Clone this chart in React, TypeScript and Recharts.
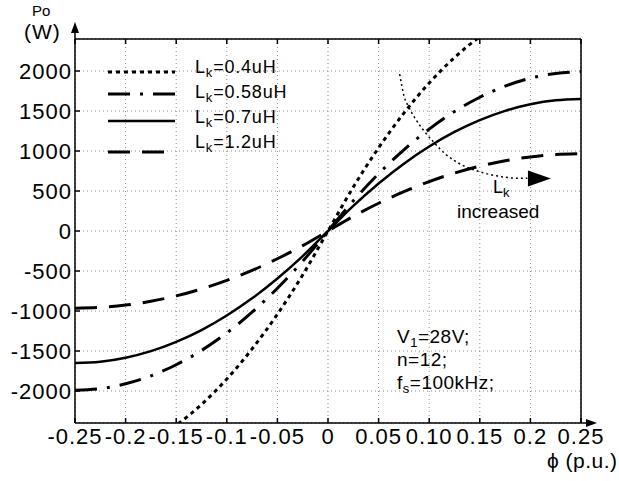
import { LineChart, Line, XAxis, YAxis, CartesianGrid, ReferenceDot } from 'recharts';

// phase shift (p.u.) and output power (W)
const phi = [-0.25, -0.225, -0.2, -0.175, -0.15, -0.125, -0.1, -0.075, -0.05, -0.025, 0, 0.025, 0.05, 0.075, 0.1, 0.125, 0.15, 0.175, 0.2, 0.225, 0.25];
const lk04 = [-2890, -2861, -2774, -2630, -2428, -2168, -1850, -1474, -1040, -549, 0, 549, 1040, 1474, 1850, 2168, 2428, 2630, 2774, 2861, 2890];
const lk058 = [-1990, -1970, -1910, -1811, -1672, -1493, -1274, -1015, -716, -378, 0, 378, 716, 1015, 1274, 1493, 1672, 1811, 1910, 1970, 1990];
const lk07 = [-1650, -1634, -1584, -1502, -1386, -1238, -1056, -842, -594, -314, 0, 314, 594, 842, 1056, 1238, 1386, 1502, 1584, 1634, 1650];
const lk12 = [-965, -955, -926, -878, -811, -724, -618, -492, -347, -183, 0, 183, 347, 492, 618, 724, 811, 878, 926, 955, 965];

const xTicks = [-0.25, -0.2, -0.15, -0.1, -0.05, 0, 0.05, 0.1, 0.15, 0.2, 0.25];
const xTickLabels = ['-0.25', '-0.2', '-0.15', '-0.1', '-0.05', '0', '0.05', '0.10', '0.15', '0.2', '0.25'];
const yTicks = [-2000, -1500, -1000, -500, 0, 500, 1000, 1500, 2000];

// "Lk increased" arrow
const arcPhi = [0.0708, 0.0751, 0.08, 0.0866, 0.0949, 0.1048, 0.1163, 0.1312, 0.1477, 0.1675, 0.1906, 0.197];
const arcPo = [1961, 1689, 1544, 1397, 1251, 1105, 959, 833, 749, 687, 658, 660];
const arrowTip = { phi: 0.2203, po: 655 };

const series = [
  { key: 'lk04', label: '0.4uH', dash: '4 4', width: 3 },
  { key: 'lk058', label: '0.58uH', dash: '22 10 3 10', width: 3 },
  { key: 'lk07', label: '0.7uH', dash: undefined, width: 2.5 },
  { key: 'lk12', label: '1.2uH', dash: '22 12', width: 3 },
];

const data = phi.map((p, i) => ({ phi: p, lk04: lk04[i], lk058: lk058[i], lk07: lk07[i], lk12: lk12[i] }));
const arcData = arcPhi.map((p, i) => ({ phi: p, arc: arcPo[i] }));

const FONT = '"Liberation Sans", Arial, Helvetica, sans-serif';
const W = 619;
const H = 481;
const LEFT = 75;
const TOP = 39;
const RIGHT = 581;
const BOTTOM = 423;

const legendLineY = [72, 94, 121, 152];
const legendTextY = [73, 98, 123, 148];

const tickStyle = { fill: '#000', fontSize: 22, fontFamily: FONT, letterSpacing: 1 };
const noTick = () => <g />;

export default function App() {
  return (
    <div style={{ position: 'absolute', left: 0, top: 0, width: W, height: H, background: '#fff', fontFamily: FONT }}>
      <LineChart width={W} height={H} data={data} margin={{ top: TOP, right: W - RIGHT, left: 5, bottom: 18 }}>
        <CartesianGrid stroke="#8a8a8a" strokeDasharray="1 3" />
        <XAxis
          dataKey="phi"
          type="number"
          domain={[-0.25, 0.25]}
          ticks={xTicks}
          tickFormatter={(v: number) => xTickLabels[xTicks.indexOf(v)] ?? String(v)}
          height={40}
          stroke="#000"
          strokeWidth={1.5}
          tickSize={-5}
          tickMargin={10}
          tick={tickStyle}
          interval={0}
        />
        <XAxis
          xAxisId="top"
          orientation="top"
          dataKey="phi"
          type="number"
          domain={[-0.25, 0.25]}
          ticks={xTicks}
          mirror
          stroke="#000"
          strokeWidth={1.5}
          tickSize={5}
          tick={noTick}
          interval={0}
        />
        <YAxis
          type="number"
          domain={[-2400, 2400]}
          ticks={yTicks}
          allowDataOverflow
          width={70}
          stroke="#000"
          strokeWidth={1.5}
          tickSize={-5}
          tickMargin={8}
          tick={tickStyle}
          interval={0}
        />
        <YAxis
          yAxisId="right"
          orientation="right"
          type="number"
          domain={[-2400, 2400]}
          ticks={yTicks}
          mirror
          stroke="#000"
          strokeWidth={1.5}
          tickSize={6}
          tick={noTick}
          interval={0}
        />
        {series.map((s) => (
          <Line
            key={s.key}
            dataKey={s.key}
            type="monotone"
            stroke="#000"
            strokeWidth={s.width}
            strokeDasharray={s.dash}
            dot={false}
            isAnimationActive={false}
          />
        ))}
        <Line
          data={arcData}
          dataKey="arc"
          type="monotone"
          stroke="#000"
          strokeWidth={1.5}
          strokeDasharray="2 3"
          dot={false}
          isAnimationActive={false}
        />
        <ReferenceDot
          x={arrowTip.phi}
          y={arrowTip.po}
          shape={(p: any) => (
            <polygon points={`${p.cx},${p.cy} ${p.cx - 23},${p.cy - 8} ${p.cx - 23},${p.cy + 8}`} fill="#000" />
          )}
        />
      </LineChart>
      <svg width={W} height={H} style={{ position: 'absolute', left: 0, top: 0, pointerEvents: 'none' }} fontFamily={FONT}>
        {/* axis arrows */}
        <line x1={LEFT} y1={TOP} x2={LEFT} y2={31} stroke="#000" strokeWidth={1.5} />
        <polygon points={`${LEFT},22 ${LEFT - 4},33 ${LEFT + 4},33`} fill="#000" />
        <line x1={RIGHT} y1={BOTTOM} x2={588} y2={BOTTOM} stroke="#000" strokeWidth={1.5} />
        <polygon points={`597,${BOTTOM} 586,${BOTTOM - 4} 586,${BOTTOM + 4}`} fill="#000" />
        {/* axis titles */}
        <text x={32} y={16} fontSize={15}>Po</text>
        <text x={24} y={39} fontSize={21} letterSpacing={1}>(W)</text>
        <text x={547} y={468} fontSize={21} letterSpacing={0.5}>ϕ (p.u.)</text>
        {/* legend */}
        {series.map((s, i) => (
          <g key={s.key}>
            <line x1={108} x2={175} y1={legendLineY[i]} y2={legendLineY[i]} stroke="#000" strokeWidth={s.width} strokeDasharray={s.dash} />
            <text x={195} y={legendTextY[i]} fontSize={18} letterSpacing={0.8}>
              L<tspan fontSize={13} dy={4}>k</tspan>
              <tspan dy={-4}>={s.label}</tspan>
            </text>
          </g>
        ))}
        {/* converter parameters */}
        <text x={397} y={343} fontSize={19} letterSpacing={0.5}>
          V<tspan fontSize={13} dy={4}>1</tspan>
          <tspan dy={-4}>=28V;</tspan>
        </text>
        <text x={397} y={366} fontSize={19} letterSpacing={0.5}>n=12;</text>
        <text x={397} y={389} fontSize={19} letterSpacing={0.5}>
          f<tspan fontSize={13} dy={4}>s</tspan>
          <tspan dy={-4}>=100kHz;</tspan>
        </text>
        {/* arrow annotation */}
        <text x={493} y={193} fontSize={18}>
          L<tspan fontSize={13} dy={4}>k</tspan>
        </text>
        <text x={457} y={218} fontSize={19}>increased</text>
      </svg>
    </div>
  );
}
